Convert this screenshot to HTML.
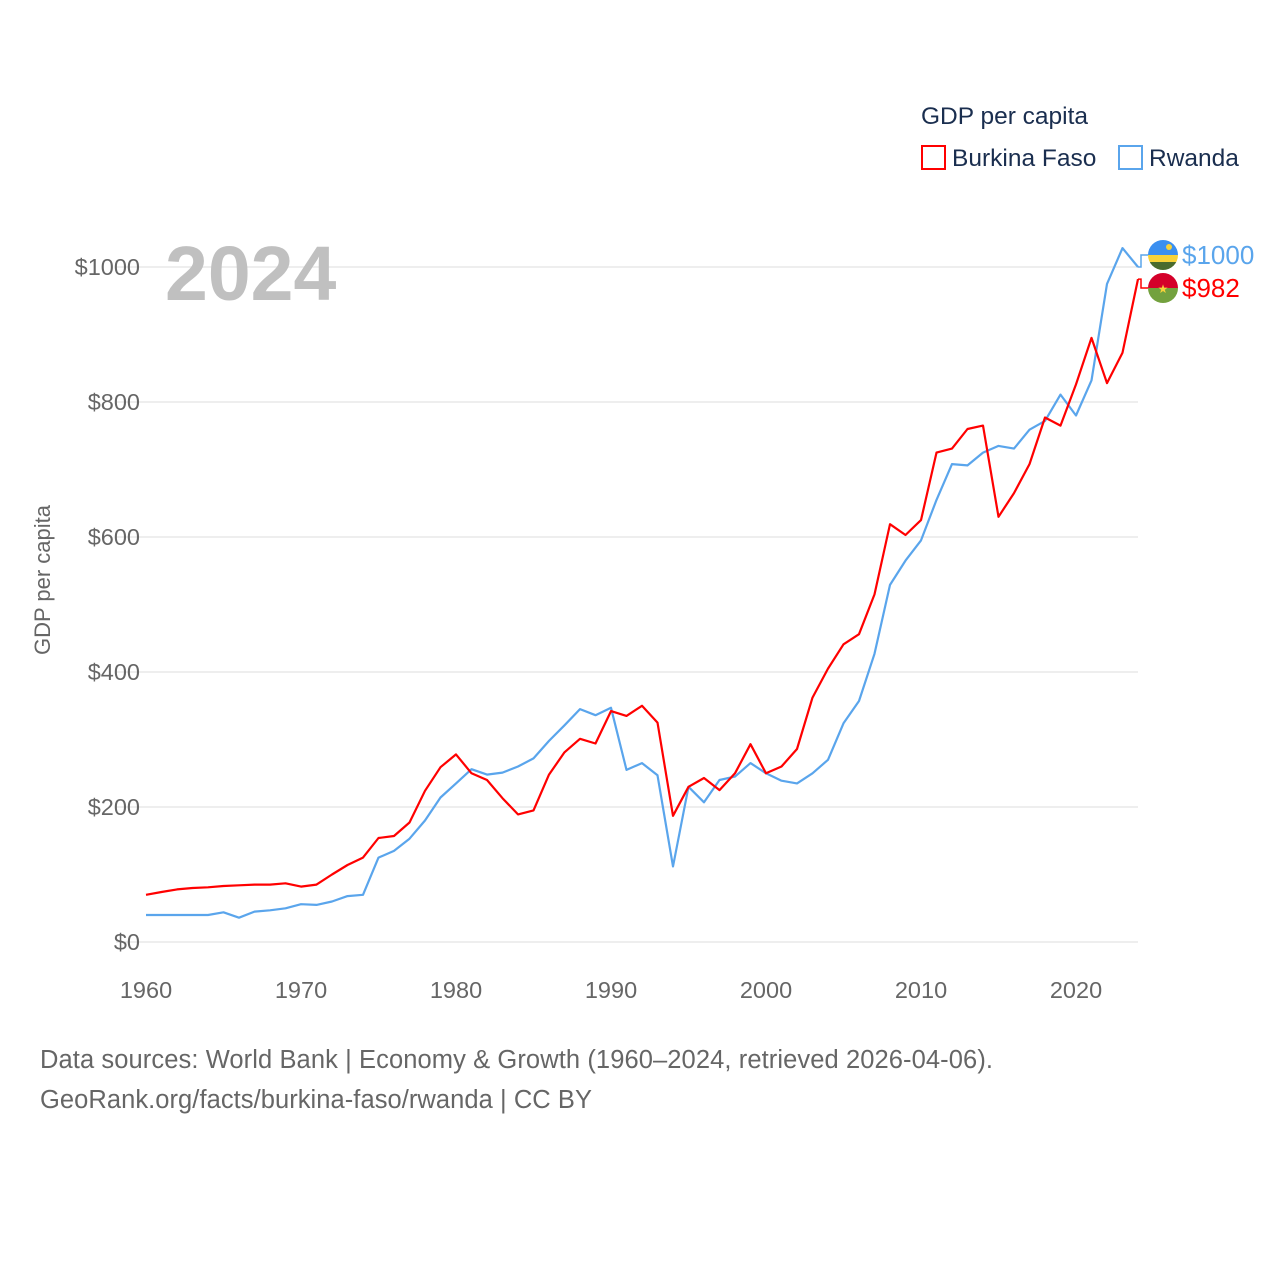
<!DOCTYPE html>
<html><head><meta charset="utf-8">
<style>
html,body{margin:0;padding:0;background:#fff;}
body{width:1280px;height:1280px;overflow:hidden;font-family:"Liberation Sans",sans-serif;}
svg text{font-family:"Liberation Sans",sans-serif;}
</style></head>
<body>
<svg id="chart" width="1280" height="1280" viewBox="0 0 1280 1280">
  <g id="grid"></g>
  <g id="yticks"></g>
  <g id="xticks"></g>
  <text x="165" y="300" font-size="77" font-weight="bold" fill="#c0c0c0">2024</text>
  <text transform="translate(50,580) rotate(-90)" text-anchor="middle" font-size="22" fill="#666">GDP per capita</text>
  <g id="series"></g>
  <g>
    <text x="921" y="124" font-size="24.5" fill="#1a2e4f">GDP per capita</text>
    <g>
      <rect x="922" y="146" width="23" height="23" fill="none" stroke="#ff0000" stroke-width="2"/>
      <text x="952" y="166" font-size="24.5" fill="#1a2e4f">Burkina Faso</text>
    </g>
    <g>
      <rect x="1119" y="146" width="23" height="23" fill="none" stroke="#5aa5ec" stroke-width="2"/>
      <text x="1149" y="166" font-size="24.5" fill="#1a2e4f">Rwanda</text>
    </g>
  </g>
  <g id="endlabels"></g>
  <text x="40" y="1068" font-size="25.5" fill="#666" textLength="953">Data sources: World Bank | Economy &amp; Growth (1960–2024, retrieved 2026-04-06).</text>
  <text x="40" y="1108" font-size="25.5" fill="#666" textLength="552">GeoRank.org/facts/burkina-faso/rwanda | CC BY</text>
</svg>
<script>
const years = [];
for (let y = 1960; y <= 2024; y++) years.push(y);
const burkinaFaso = [70,74,78,80,81,83,84,85,85,87,82,85,100,114,125,154,157,177,224,259,278,250,240,213,189,195,248,281,301,294,342,335,350,325,187,230,243,225,250,293,250,260,286,362,405,441,456,515,619,603,625,725,731,760,765,630,665,708,777,765,826,895,828,873,982];
const rwanda = [40,40,40,40,40,44,36,45,47,50,56,55,60,68,70,125,135,153,180,214,235,256,248,251,260,272,298,321,345,336,347,255,265,247,112,230,207,240,245,265,250,239,235,250,270,324,357,427,529,565,595,655,708,706,725,735,731,759,772,811,780,832,975,1028,1000];
const yTicks = [0,200,400,600,800,1000];
const xTicks = [1960,1970,1980,1990,2000,2010,2020];

const NS = "http://www.w3.org/2000/svg";
const X = yr => 146 + (yr - 1960) * 15.5;
const Y = v => 942 - v * 0.675;
function mk(tag, attrs, parent) {
  const e = document.createElementNS(NS, tag);
  for (const k in attrs) e.setAttribute(k, attrs[k]);
  parent.appendChild(e);
  return e;
}
const grid = document.getElementById('grid');
const yt = document.getElementById('yticks');
yTicks.forEach(v => {
  const l = mk('line', {x1:116, x2:1138, y1:Y(v), y2:Y(v), stroke:'#e8e8e8', 'stroke-width':1.5}, grid);
  
  
  const t = mk('text', {x:140, y:Y(v)+8, 'text-anchor':'end', 'font-size':23.5, fill:'#666'}, yt);
  t.textContent = '$' + v;
  
  
});
const xt = document.getElementById('xticks');
xTicks.forEach(yr => {
  const t = mk('text', {x:X(yr), y:998, 'text-anchor':'middle', 'font-size':23.5, fill:'#666'}, xt);
  t.textContent = yr;
  
  
});
const ser = document.getElementById('series');
function line(vals, color, name) {
  const d = vals.map((v,i) => (i?'L':'M') + X(years[i]).toFixed(1) + ',' + Y(v).toFixed(1)).join(' ');
  const p = mk('path', {d:d, fill:'none', stroke:color, 'stroke-width':2.2, 'stroke-linejoin':'round'}, ser);
  
  
}
line(rwanda, '#5aa5ec', 'line-rwanda');
line(burkinaFaso, '#ff0000', 'line-burkina-faso');

const el = document.getElementById('endlabels');
const lastI = years.length - 1;
function endLabel(val, color, ly, flag, name) {
  const x0 = X(years[lastI]), y0 = Y(val);
  mk('path', {d:`M${x0},${y0} L${x0+3},${y0} L${x0+3},${ly} L${x0+10},${ly}`, fill:'none', stroke:color, 'stroke-width':1.5}, el);
  const g = mk('g', {}, el);
  
  
  const cx = 1163;
  const cp = mk('clipPath', {id:'c'+name}, g);
  mk('circle', {cx:cx, cy:ly, r:15}, cp);
  const fg = mk('g', {'clip-path':`url(#c${name})`}, g);
  if (flag === 'rw') {
    mk('rect', {x:cx-15, y:ly-15, width:30, height:15, fill:'#3a8ff0'}, fg);
    mk('rect', {x:cx-15, y:ly, width:30, height:7, fill:'#f7d23a'}, fg);
    mk('rect', {x:cx-15, y:ly+7, width:30, height:8, fill:'#4a6b2e'}, fg);
    mk('circle', {cx:cx+6, cy:ly-8, r:3, fill:'#f7d23a'}, fg);
  } else {
    mk('rect', {x:cx-15, y:ly-15, width:30, height:15, fill:'#d4002a'}, fg);
    mk('rect', {x:cx-15, y:ly, width:30, height:15, fill:'#73a13e'}, fg);
    mk('text', {x:cx, y:ly+5, 'text-anchor':'middle', 'font-size':12, fill:'#f7d23a'}, fg).textContent = '★';
  }
  const t = mk('text', {x:1182, y:ly+9, 'font-size':26, fill:color}, g);
  t.textContent = '$' + val;
}
endLabel(rwanda[lastI], '#5aa5ec', 255, 'rw', 'end-label-rwanda');
endLabel(burkinaFaso[lastI], '#ff0000', 288, 'bf', 'end-label-burkina-faso');
</script>
</body></html>
